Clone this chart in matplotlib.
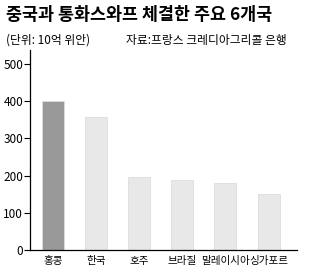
import matplotlib
matplotlib.use('Agg')
import matplotlib.pyplot as plt

plt.rcParams['font.family'] = ['Noto Sans CJK KR', 'DejaVu Sans']

countries = ['홍콩', '한국', '호주', '브라질', '말레이시아', '싱가포르']
values = [400, 358, 196, 188, 179, 150]
colors = ['#999999', '#e8e8e8', '#e8e8e8', '#e8e8e8', '#e8e8e8', '#e8e8e8']
yticks = [0, 100, 200, 300, 400, 500]

fig = plt.figure(figsize=(3.2, 2.78), dpi=100)
ax = fig.add_axes([30/320, 28/278, 267/320, 200/278])

x = list(range(len(countries)))
ax.bar(x, values, width=0.51, color=colors, edgecolor='#dddddd', linewidth=0.6)
ax.set_xlim(-0.53, 5.66)
ax.set_ylim(0, 538)
ax.set_yticks(yticks)
ax.set_xticks(x)
ax.set_xticklabels(countries, fontsize=7.6)
ax.tick_params(axis='y', labelsize=8.5, length=4, width=0.8, pad=1)
ax.tick_params(axis='x', length=0, pad=4)
for s in ['top', 'right']:
    ax.spines[s].set_visible(False)
ax.spines['left'].set_linewidth(0.9)
ax.spines['bottom'].set_linewidth(0.9)

fig.text(0.02, 0.945, '중국과 통화스와프 체결한 주요 6개국', fontsize=12.5, fontweight='bold', va='center')
fig.text(0.02, 0.855, '(단위: 10억 위안)', fontsize=8.5, va='center')
fig.text(0.395, 0.855, '자료:프랑스 크레디아그리콜 은행', fontsize=8.5, va='center')

fig.savefig('out.png', dpi=100)
